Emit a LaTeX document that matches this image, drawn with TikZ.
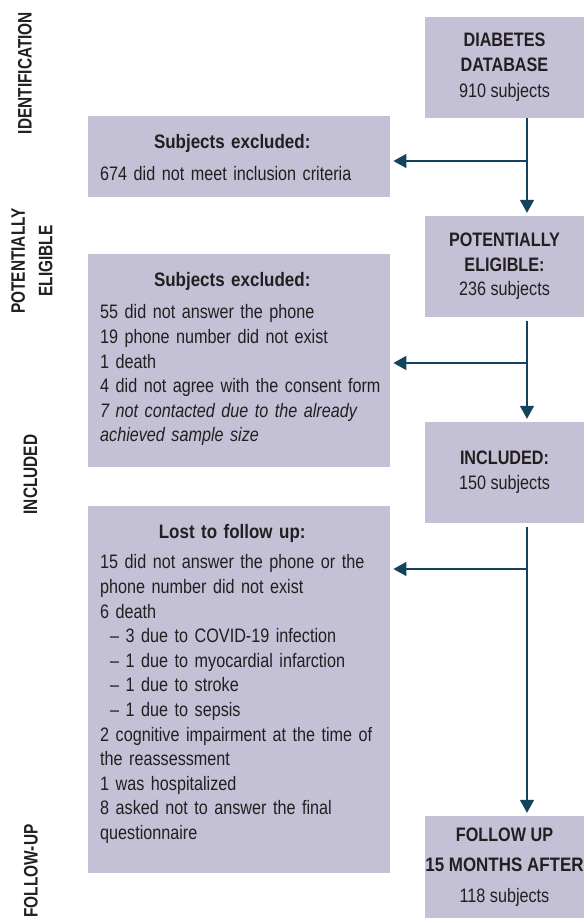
\documentclass[tikz,border=0pt]{standalone}
\usepackage{fontspec}
\setmainfont{Liberation Sans}[FakeStretch=0.83]
\newfontfamily\headfont{Liberation Sans}[FakeStretch=0.87]
\newfontfamily\phasefont{Liberation Sans}[FakeStretch=0.79]
\usetikzlibrary{arrows.meta}

\definecolor{boxfill}{RGB}{196,192,214}
\definecolor{flowline}{RGB}{20,68,92}
\definecolor{ink}{RGB}{35,31,32}

\tikzset{
  txt/.style={font=\fontsize{19.5}{24.6}\selectfont, text=ink},
  stagebox/.style={txt, fill=boxfill, minimum width=159pt, minimum height=101pt, align=center, inner sep=0pt},
  exclbox/.style={fill=boxfill, minimum width=302pt, anchor=north west, inner sep=0pt},
  excltext/.style={txt, anchor=north west, text width=300pt, align=left, inner sep=0pt},
  flow/.style={draw=flowline, line width=1.6pt, -{Triangle[width=14pt,length=13pt]}},
  phase/.style={txt, font=\fontsize{19.5}{27.5}\selectfont\phasefont\bfseries, rotate=90, align=center}
}

\begin{document}
\begin{tikzpicture}[x=1pt,y=1pt]
  \useasboundingbox (0,0) rectangle (584,-921);

  % phases on the left
  \node[phase] (ph1) at (25,-73) {IDENTIFICATION};
  \node[phase] (ph2) at (32,-261) {POTENTIALLY\\ELIGIBLE};
  \node[phase] (ph3) at (30.5,-474.5) {INCLUDED};
  \node[phase] (ph4) at (31,-871) {FOLLOW-UP};

  % main stages
  \node[stagebox] (db) at (504.5,-67.5) {\textbf{DIABETES}\\\textbf{DATABASE}\\[2pt]910 subjects};
  \node[stagebox] (pe) at (504.5,-266.5) {\textbf{POTENTIALLY}\\\textbf{ELIGIBLE:}\\236 subjects};
  \node[stagebox] (inc) at (504.5,-472.5) {\textbf{INCLUDED:}\\150 subjects};
  \node[stagebox, minimum height=102pt] (fu) at (504.5,-867) {\textbf{FOLLOW UP}\\[6pt]{\headfont\bfseries 15 MONTHS AFTER}\\[6pt]118 subjects};

  % excluded subjects
  \node[exclbox, minimum height=81pt] (ex1) at (88,-116) {};
  \node[exclbox, minimum height=213pt] (ex2) at (88,-254) {};
  \node[exclbox, minimum height=367pt] (ex3) at (88,-506) {};

  \node[excltext] (ex1txt) at ([xshift=12pt,yshift=-18pt]ex1.north west)
    {\makebox[264pt]{\headfont\bfseries Subjects excluded:}\\[8pt]
     674 did not meet inclusion criteria};
  \node[excltext] (ex2txt) at ([xshift=12pt,yshift=-18pt]ex2.north west)
    {\makebox[264pt]{\headfont\bfseries Subjects excluded:}\\[8pt]
     55 did not answer the phone\\
     19 phone number did not exist\\
     1 death\\
     4 did not agree with the consent form\\
     \textit{7 not contacted due to the already}\\
     \textit{achieved sample size}};
  \node[excltext] (ex3txt) at ([xshift=12pt,yshift=-18pt]ex3.north west)
    {\makebox[264pt]{\headfont\bfseries Lost to follow up:}\\[6pt]
     15 did not answer the phone or the\\
     phone number did not exist\\
     6 death\\
     \hspace*{10pt}\textendash\ 3 due to COVID-19 infection\\
     \hspace*{10pt}\textendash\ 1 due to myocardial infarction\\
     \hspace*{10pt}\textendash\ 1 due to stroke\\
     \hspace*{10pt}\textendash\ 1 due to sepsis\\
     2 cognitive impairment at the time of\\
     the reassessment\\
     1 was hospitalized\\
     8 asked not to answer the final\\
     questionnaire};

  % branch points on the spine
  \coordinate (b1) at (527,-161);
  \coordinate (b2) at (527,-363);
  \coordinate (b3) at (527,-569);

  \draw[flow, shorten >=3pt] (db.south -| b1) -- (pe.north -| b1);
  \draw[flow, shorten >=3pt] (b1) -- (ex1.east |- b1);
  \draw[flow, shorten <=4pt, shorten >=3pt] (pe.south -| b2) -- (inc.north -| b2);
  \draw[flow, shorten >=3pt] (b2) -- (ex2.east |- b2);
  \draw[flow, shorten <=4pt, shorten >=3pt] (inc.south -| b3) -- (fu.north -| b3);
  \draw[flow, shorten >=3pt] (b3) -- (ex3.east |- b3);
\end{tikzpicture}
\end{document}
